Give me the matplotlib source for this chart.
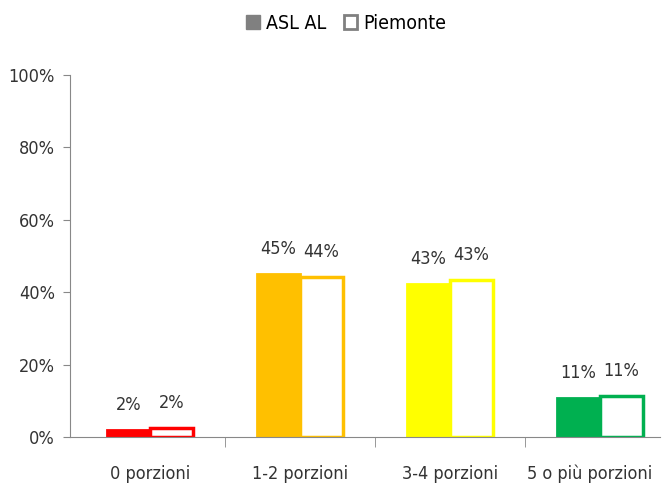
import matplotlib.pyplot as plt
import matplotlib.transforms as mtransforms
import numpy as np
from matplotlib.patches import Patch

plt.rcParams['font.family'] = ['DejaVu Sans']
plt.rcParams['font.stretch'] = 'condensed'

categories = ["0 porzioni", "1-2 porzioni", "3-4 porzioni", "5 o più porzioni"]
asl_al = [1.9, 45.0, 42.3, 10.8]
piemonte = [2.4, 44.2, 43.3, 11.3]
asl_labels = ["2%", "45%", "43%", "11%"]
pie_labels = ["2%", "44%", "43%", "11%"]
colors = ["#FF0000", "#FFC000", "#FFFF00", "#00B050"]
text_col = "#333333"

fig = plt.figure(figsize=(6.62, 4.87), dpi=100)
ax = fig.add_axes([70 / 662, 50 / 487, 590 / 662, 362 / 487])

x = np.arange(len(categories))
w = 0.285
for i in range(len(categories)):
    ax.bar(x[i] - w / 2, asl_al[i], w, color=colors[i], edgecolor=colors[i], linewidth=2)
    ax.bar(x[i] + w / 2, piemonte[i], w, color="white", edgecolor=colors[i], linewidth=2.5)
    ax.text(x[i] - w / 2, asl_al[i] + 4.5, asl_labels[i], ha="center", va="bottom",
            fontsize=13, color=text_col)
    ax.text(x[i] + w / 2, piemonte[i] + 4.5, pie_labels[i], ha="center", va="bottom",
            fontsize=13, color=text_col)

ax.set_xlim(-0.533, 3.4)
ax.set_ylim(0, 100)
ax.set_yticks(range(0, 101, 20))
ax.set_yticklabels([f"{v}%" for v in range(0, 101, 20)], fontsize=13, color=text_col)
ax.set_xticks(x)
ax.set_xticklabels(categories, fontsize=13, color=text_col)
ax.set_xticks([0.5, 1.5, 2.5], minor=True)
ax.tick_params(axis="x", which="major", length=0, pad=20)
ax.tick_params(axis="x", which="minor", length=7, color="#888888", direction="out")
ax.tick_params(axis="y", length=5, color="#888888", direction="out", pad=6)

# last label sits a little left in the original so it fits the frame
last = ax.get_xticklabels()[-1]
last.set_transform(last.get_transform() + mtransforms.ScaledTranslation(-10 / 100, 0, fig.dpi_scale_trans))

for s in ["top", "right"]:
    ax.spines[s].set_visible(False)
ax.spines["left"].set_color("#888888")
ax.spines["bottom"].set_color("#888888")

handles = [Patch(facecolor="#808080", edgecolor="#808080", label="ASL AL"),
           Patch(facecolor="white", edgecolor="#808080", linewidth=2, label="Piemonte")]
fig.legend(handles=handles, loc="upper center", bbox_to_anchor=(0.523, 1.008), ncol=2,
           frameon=False, fontsize=14, handlelength=0.7, handleheight=0.7,
           handletextpad=0.3, columnspacing=0.9)

plt.savefig("out.png", dpi=100)
